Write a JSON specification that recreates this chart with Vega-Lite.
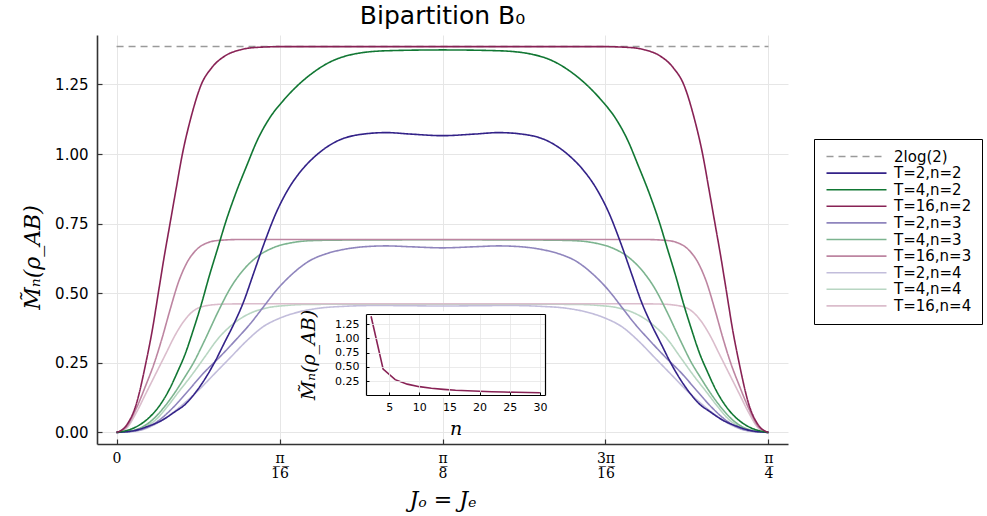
{
"$schema": "https://vega.github.io/schema/vega-lite/v6.json",
"autosize": "none",
"padding": {"left": 97, "top": 35, "right": 199, "bottom": 72},
"width": 691,
"height": 409,
"background": "white",
"config": {"view": {"stroke": null}, "font": "DejaVu Sans"},
"title": {"text": "Bipartition B₀", "fontSize": 25, "font": "DejaVu Sans", "fontWeight": "normal", "color": "black", "anchor": "middle", "offset": 6},
"datasets": {
"main": [
{"s":"2log(2)","J":0,"M":1.3863},{"s":"2log(2)","J":0.25,"M":1.3863},
{"s":"T=2,n=4","J":0,"M":0},{"s":"T=2,n=4","J":0.0075,"M":0.005},{"s":"T=2,n=4","J":0.015,"M":0.03},{"s":"T=2,n=4","J":0.02,"M":0.06},{"s":"T=2,n=4","J":0.025,"M":0.097},{"s":"T=2,n=4","J":0.03125,"M":0.15},{"s":"T=2,n=4","J":0.0375,"M":0.21},{"s":"T=2,n=4","J":0.04375,"M":0.27},{"s":"T=2,n=4","J":0.05,"M":0.33},{"s":"T=2,n=4","J":0.05625,"M":0.38},{"s":"T=2,n=4","J":0.0625,"M":0.41},{"s":"T=2,n=4","J":0.07,"M":0.433},{"s":"T=2,n=4","J":0.0775,"M":0.446},{"s":"T=2,n=4","J":0.0875,"M":0.453},{"s":"T=2,n=4","J":0.1,"M":0.456},{"s":"T=2,n=4","J":0.1125,"M":0.455},{"s":"T=2,n=4","J":0.125,"M":0.454},{"s":"T=2,n=4","J":0.1375,"M":0.455},{"s":"T=2,n=4","J":0.15,"M":0.456},{"s":"T=2,n=4","J":0.1625,"M":0.453},{"s":"T=2,n=4","J":0.1725,"M":0.446},{"s":"T=2,n=4","J":0.18,"M":0.433},{"s":"T=2,n=4","J":0.1875,"M":0.41},{"s":"T=2,n=4","J":0.19375,"M":0.38},{"s":"T=2,n=4","J":0.2,"M":0.33},{"s":"T=2,n=4","J":0.20625,"M":0.27},{"s":"T=2,n=4","J":0.2125,"M":0.21},{"s":"T=2,n=4","J":0.21875,"M":0.15},{"s":"T=2,n=4","J":0.225,"M":0.097},{"s":"T=2,n=4","J":0.23,"M":0.06},{"s":"T=2,n=4","J":0.235,"M":0.03},{"s":"T=2,n=4","J":0.2425,"M":0.005},{"s":"T=2,n=4","J":0.25,"M":0},
{"s":"T=4,n=4","J":0,"M":0},{"s":"T=4,n=4","J":0.005,"M":0.004},{"s":"T=4,n=4","J":0.01,"M":0.017},{"s":"T=4,n=4","J":0.015,"M":0.045},{"s":"T=4,n=4","J":0.01925,"M":0.09},{"s":"T=4,n=4","J":0.02375,"M":0.145},{"s":"T=4,n=4","J":0.02875,"M":0.205},{"s":"T=4,n=4","J":0.03375,"M":0.27},{"s":"T=4,n=4","J":0.03875,"M":0.335},{"s":"T=4,n=4","J":0.045,"M":0.392},{"s":"T=4,n=4","J":0.05125,"M":0.428},{"s":"T=4,n=4","J":0.0575,"M":0.447},{"s":"T=4,n=4","J":0.065,"M":0.456},{"s":"T=4,n=4","J":0.075,"M":0.46},{"s":"T=4,n=4","J":0.125,"M":0.461},{"s":"T=4,n=4","J":0.175,"M":0.46},{"s":"T=4,n=4","J":0.185,"M":0.456},{"s":"T=4,n=4","J":0.1925,"M":0.447},{"s":"T=4,n=4","J":0.19875,"M":0.428},{"s":"T=4,n=4","J":0.205,"M":0.392},{"s":"T=4,n=4","J":0.21125,"M":0.335},{"s":"T=4,n=4","J":0.21625,"M":0.27},{"s":"T=4,n=4","J":0.22125,"M":0.205},{"s":"T=4,n=4","J":0.22625,"M":0.145},{"s":"T=4,n=4","J":0.23075,"M":0.09},{"s":"T=4,n=4","J":0.235,"M":0.045},{"s":"T=4,n=4","J":0.24,"M":0.017},{"s":"T=4,n=4","J":0.245,"M":0.004},{"s":"T=4,n=4","J":0.25,"M":0},
{"s":"T=16,n=4","J":0,"M":0},{"s":"T=16,n=4","J":0.00375,"M":0.015},{"s":"T=16,n=4","J":0.0075,"M":0.07},{"s":"T=16,n=4","J":0.01125,"M":0.14},{"s":"T=16,n=4","J":0.015,"M":0.21},{"s":"T=16,n=4","J":0.01875,"M":0.28},{"s":"T=16,n=4","J":0.0225,"M":0.35},{"s":"T=16,n=4","J":0.02625,"M":0.405},{"s":"T=16,n=4","J":0.03,"M":0.44},{"s":"T=16,n=4","J":0.035,"M":0.456},{"s":"T=16,n=4","J":0.04125,"M":0.461},{"s":"T=16,n=4","J":0.05,"M":0.462},{"s":"T=16,n=4","J":0.125,"M":0.462},{"s":"T=16,n=4","J":0.2,"M":0.462},{"s":"T=16,n=4","J":0.20875,"M":0.461},{"s":"T=16,n=4","J":0.215,"M":0.456},{"s":"T=16,n=4","J":0.22,"M":0.44},{"s":"T=16,n=4","J":0.22375,"M":0.405},{"s":"T=16,n=4","J":0.2275,"M":0.35},{"s":"T=16,n=4","J":0.23125,"M":0.28},{"s":"T=16,n=4","J":0.235,"M":0.21},{"s":"T=16,n=4","J":0.23875,"M":0.14},{"s":"T=16,n=4","J":0.2425,"M":0.07},{"s":"T=16,n=4","J":0.24625,"M":0.015},{"s":"T=16,n=4","J":0.25,"M":0},
{"s":"T=2,n=3","J":0,"M":0},{"s":"T=2,n=3","J":0.0075,"M":0.006},{"s":"T=2,n=3","J":0.015,"M":0.035},{"s":"T=2,n=3","J":0.02175,"M":0.09},{"s":"T=2,n=3","J":0.0275,"M":0.15},{"s":"T=2,n=3","J":0.03325,"M":0.212},{"s":"T=2,n=3","J":0.04,"M":0.275},{"s":"T=2,n=3","J":0.046,"M":0.335},{"s":"T=2,n=3","J":0.05125,"M":0.39},{"s":"T=2,n=3","J":0.05625,"M":0.45},{"s":"T=2,n=3","J":0.06125,"M":0.51},{"s":"T=2,n=3","J":0.0675,"M":0.57},{"s":"T=2,n=3","J":0.07375,"M":0.615},{"s":"T=2,n=3","J":0.0805,"M":0.642},{"s":"T=2,n=3","J":0.0875,"M":0.658},{"s":"T=2,n=3","J":0.095,"M":0.667},{"s":"T=2,n=3","J":0.1035,"M":0.67},{"s":"T=2,n=3","J":0.1125,"M":0.667},{"s":"T=2,n=3","J":0.125,"M":0.663},{"s":"T=2,n=3","J":0.1375,"M":0.667},{"s":"T=2,n=3","J":0.1465,"M":0.67},{"s":"T=2,n=3","J":0.155,"M":0.667},{"s":"T=2,n=3","J":0.1625,"M":0.658},{"s":"T=2,n=3","J":0.1695,"M":0.642},{"s":"T=2,n=3","J":0.17625,"M":0.615},{"s":"T=2,n=3","J":0.1825,"M":0.57},{"s":"T=2,n=3","J":0.18875,"M":0.51},{"s":"T=2,n=3","J":0.19375,"M":0.45},{"s":"T=2,n=3","J":0.19875,"M":0.39},{"s":"T=2,n=3","J":0.204,"M":0.335},{"s":"T=2,n=3","J":0.21,"M":0.275},{"s":"T=2,n=3","J":0.21675,"M":0.212},{"s":"T=2,n=3","J":0.2225,"M":0.15},{"s":"T=2,n=3","J":0.22825,"M":0.09},{"s":"T=2,n=3","J":0.235,"M":0.035},{"s":"T=2,n=3","J":0.2425,"M":0.006},{"s":"T=2,n=3","J":0.25,"M":0},
{"s":"T=4,n=3","J":0,"M":0},{"s":"T=4,n=3","J":0.005,"M":0.005},{"s":"T=4,n=3","J":0.01,"M":0.02},{"s":"T=4,n=3","J":0.01375,"M":0.045},{"s":"T=4,n=3","J":0.018,"M":0.088},{"s":"T=4,n=3","J":0.0225,"M":0.145},{"s":"T=4,n=3","J":0.02625,"M":0.2},{"s":"T=4,n=3","J":0.0295,"M":0.25},{"s":"T=4,n=3","J":0.03375,"M":0.33},{"s":"T=4,n=3","J":0.03875,"M":0.43},{"s":"T=4,n=3","J":0.04375,"M":0.52},{"s":"T=4,n=3","J":0.04875,"M":0.585},{"s":"T=4,n=3","J":0.05375,"M":0.63},{"s":"T=4,n=3","J":0.06,"M":0.663},{"s":"T=4,n=3","J":0.0675,"M":0.682},{"s":"T=4,n=3","J":0.075,"M":0.689},{"s":"T=4,n=3","J":0.0875,"M":0.691},{"s":"T=4,n=3","J":0.125,"M":0.692},{"s":"T=4,n=3","J":0.1625,"M":0.691},{"s":"T=4,n=3","J":0.175,"M":0.689},{"s":"T=4,n=3","J":0.1825,"M":0.682},{"s":"T=4,n=3","J":0.19,"M":0.663},{"s":"T=4,n=3","J":0.19625,"M":0.63},{"s":"T=4,n=3","J":0.20125,"M":0.585},{"s":"T=4,n=3","J":0.20625,"M":0.52},{"s":"T=4,n=3","J":0.21125,"M":0.43},{"s":"T=4,n=3","J":0.21625,"M":0.33},{"s":"T=4,n=3","J":0.2205,"M":0.25},{"s":"T=4,n=3","J":0.22375,"M":0.2},{"s":"T=4,n=3","J":0.2275,"M":0.145},{"s":"T=4,n=3","J":0.232,"M":0.088},{"s":"T=4,n=3","J":0.23625,"M":0.045},{"s":"T=4,n=3","J":0.24,"M":0.02},{"s":"T=4,n=3","J":0.245,"M":0.005},{"s":"T=4,n=3","J":0.25,"M":0},
{"s":"T=16,n=3","J":0,"M":0},{"s":"T=16,n=3","J":0.00375,"M":0.02},{"s":"T=16,n=3","J":0.0075,"M":0.085},{"s":"T=16,n=3","J":0.01125,"M":0.17},{"s":"T=16,n=3","J":0.0145,"M":0.25},{"s":"T=16,n=3","J":0.0175,"M":0.34},{"s":"T=16,n=3","J":0.0205,"M":0.44},{"s":"T=16,n=3","J":0.02375,"M":0.54},{"s":"T=16,n=3","J":0.027,"M":0.61},{"s":"T=16,n=3","J":0.0305,"M":0.655},{"s":"T=16,n=3","J":0.0345,"M":0.68},{"s":"T=16,n=3","J":0.0395,"M":0.69},{"s":"T=16,n=3","J":0.0475,"M":0.693},{"s":"T=16,n=3","J":0.075,"M":0.693},{"s":"T=16,n=3","J":0.125,"M":0.693},{"s":"T=16,n=3","J":0.175,"M":0.693},{"s":"T=16,n=3","J":0.2025,"M":0.693},{"s":"T=16,n=3","J":0.2105,"M":0.69},{"s":"T=16,n=3","J":0.2155,"M":0.68},{"s":"T=16,n=3","J":0.2195,"M":0.655},{"s":"T=16,n=3","J":0.223,"M":0.61},{"s":"T=16,n=3","J":0.22625,"M":0.54},{"s":"T=16,n=3","J":0.2295,"M":0.44},{"s":"T=16,n=3","J":0.2325,"M":0.34},{"s":"T=16,n=3","J":0.2355,"M":0.25},{"s":"T=16,n=3","J":0.23875,"M":0.17},{"s":"T=16,n=3","J":0.2425,"M":0.085},{"s":"T=16,n=3","J":0.24625,"M":0.02},{"s":"T=16,n=3","J":0.25,"M":0},
{"s":"T=2,n=2","J":0,"M":0},{"s":"T=2,n=2","J":0.0075,"M":0.008},{"s":"T=2,n=2","J":0.0115,"M":0.02},{"s":"T=2,n=2","J":0.0175,"M":0.044},{"s":"T=2,n=2","J":0.0225,"M":0.075},{"s":"T=2,n=2","J":0.02625,"M":0.1},{"s":"T=2,n=2","J":0.03,"M":0.14},{"s":"T=2,n=2","J":0.03375,"M":0.19},{"s":"T=2,n=2","J":0.0375,"M":0.25},{"s":"T=2,n=2","J":0.04125,"M":0.32},{"s":"T=2,n=2","J":0.045,"M":0.39},{"s":"T=2,n=2","J":0.04875,"M":0.47},{"s":"T=2,n=2","J":0.0525,"M":0.57},{"s":"T=2,n=2","J":0.05625,"M":0.67},{"s":"T=2,n=2","J":0.06125,"M":0.79},{"s":"T=2,n=2","J":0.06625,"M":0.88},{"s":"T=2,n=2","J":0.07125,"M":0.945},{"s":"T=2,n=2","J":0.0765,"M":0.995},{"s":"T=2,n=2","J":0.08425,"M":1.045},{"s":"T=2,n=2","J":0.09325,"M":1.07},{"s":"T=2,n=2","J":0.1035,"M":1.077},{"s":"T=2,n=2","J":0.11225,"M":1.072},{"s":"T=2,n=2","J":0.125,"M":1.066},{"s":"T=2,n=2","J":0.13775,"M":1.072},{"s":"T=2,n=2","J":0.1465,"M":1.077},{"s":"T=2,n=2","J":0.15675,"M":1.07},{"s":"T=2,n=2","J":0.16575,"M":1.045},{"s":"T=2,n=2","J":0.1735,"M":0.995},{"s":"T=2,n=2","J":0.17875,"M":0.945},{"s":"T=2,n=2","J":0.18375,"M":0.88},{"s":"T=2,n=2","J":0.18875,"M":0.79},{"s":"T=2,n=2","J":0.19375,"M":0.67},{"s":"T=2,n=2","J":0.1975,"M":0.57},{"s":"T=2,n=2","J":0.20125,"M":0.47},{"s":"T=2,n=2","J":0.205,"M":0.39},{"s":"T=2,n=2","J":0.20875,"M":0.32},{"s":"T=2,n=2","J":0.2125,"M":0.25},{"s":"T=2,n=2","J":0.21625,"M":0.19},{"s":"T=2,n=2","J":0.22,"M":0.14},{"s":"T=2,n=2","J":0.22375,"M":0.1},{"s":"T=2,n=2","J":0.2275,"M":0.075},{"s":"T=2,n=2","J":0.2325,"M":0.044},{"s":"T=2,n=2","J":0.2385,"M":0.02},{"s":"T=2,n=2","J":0.2425,"M":0.008},{"s":"T=2,n=2","J":0.25,"M":0},
{"s":"T=4,n=2","J":0,"M":0},{"s":"T=4,n=2","J":0.0075,"M":0.02},{"s":"T=4,n=2","J":0.0115,"M":0.045},{"s":"T=4,n=2","J":0.016,"M":0.09},{"s":"T=4,n=2","J":0.02,"M":0.15},{"s":"T=4,n=2","J":0.0235,"M":0.22},{"s":"T=4,n=2","J":0.02625,"M":0.28},{"s":"T=4,n=2","J":0.0295,"M":0.37},{"s":"T=4,n=2","J":0.0325,"M":0.46},{"s":"T=4,n=2","J":0.0355,"M":0.56},{"s":"T=4,n=2","J":0.03875,"M":0.66},{"s":"T=4,n=2","J":0.042,"M":0.76},{"s":"T=4,n=2","J":0.04575,"M":0.86},{"s":"T=4,n=2","J":0.05,"M":0.96},{"s":"T=4,n=2","J":0.054,"M":1.05},{"s":"T=4,n=2","J":0.05875,"M":1.13},{"s":"T=4,n=2","J":0.06375,"M":1.19},{"s":"T=4,n=2","J":0.06875,"M":1.24},{"s":"T=4,n=2","J":0.075,"M":1.29},{"s":"T=4,n=2","J":0.08175,"M":1.33},{"s":"T=4,n=2","J":0.0905,"M":1.358},{"s":"T=4,n=2","J":0.1035,"M":1.371},{"s":"T=4,n=2","J":0.125,"M":1.374},{"s":"T=4,n=2","J":0.1465,"M":1.371},{"s":"T=4,n=2","J":0.1595,"M":1.358},{"s":"T=4,n=2","J":0.16825,"M":1.33},{"s":"T=4,n=2","J":0.175,"M":1.29},{"s":"T=4,n=2","J":0.18125,"M":1.24},{"s":"T=4,n=2","J":0.18625,"M":1.19},{"s":"T=4,n=2","J":0.19125,"M":1.13},{"s":"T=4,n=2","J":0.196,"M":1.05},{"s":"T=4,n=2","J":0.2,"M":0.96},{"s":"T=4,n=2","J":0.20425,"M":0.86},{"s":"T=4,n=2","J":0.208,"M":0.76},{"s":"T=4,n=2","J":0.21125,"M":0.66},{"s":"T=4,n=2","J":0.2145,"M":0.56},{"s":"T=4,n=2","J":0.2175,"M":0.46},{"s":"T=4,n=2","J":0.2205,"M":0.37},{"s":"T=4,n=2","J":0.22375,"M":0.28},{"s":"T=4,n=2","J":0.2265,"M":0.22},{"s":"T=4,n=2","J":0.23,"M":0.15},{"s":"T=4,n=2","J":0.234,"M":0.09},{"s":"T=4,n=2","J":0.2385,"M":0.045},{"s":"T=4,n=2","J":0.2425,"M":0.02},{"s":"T=4,n=2","J":0.25,"M":0},
{"s":"T=16,n=2","J":0,"M":0},{"s":"T=16,n=2","J":0.00375,"M":0.025},{"s":"T=16,n=2","J":0.0075,"M":0.1},{"s":"T=16,n=2","J":0.01125,"M":0.25},{"s":"T=16,n=2","J":0.01375,"M":0.37},{"s":"T=16,n=2","J":0.016,"M":0.5},{"s":"T=16,n=2","J":0.01825,"M":0.63},{"s":"T=16,n=2","J":0.0205,"M":0.75},{"s":"T=16,n=2","J":0.02275,"M":0.87},{"s":"T=16,n=2","J":0.02525,"M":1.0},{"s":"T=16,n=2","J":0.0285,"M":1.13},{"s":"T=16,n=2","J":0.0325,"M":1.25},{"s":"T=16,n=2","J":0.0365,"M":1.31},{"s":"T=16,n=2","J":0.0415,"M":1.352},{"s":"T=16,n=2","J":0.04725,"M":1.374},{"s":"T=16,n=2","J":0.05375,"M":1.383},{"s":"T=16,n=2","J":0.065,"M":1.386},{"s":"T=16,n=2","J":0.0875,"M":1.386},{"s":"T=16,n=2","J":0.125,"M":1.386},{"s":"T=16,n=2","J":0.1625,"M":1.386},{"s":"T=16,n=2","J":0.185,"M":1.386},{"s":"T=16,n=2","J":0.19625,"M":1.383},{"s":"T=16,n=2","J":0.20275,"M":1.374},{"s":"T=16,n=2","J":0.2085,"M":1.352},{"s":"T=16,n=2","J":0.2135,"M":1.31},{"s":"T=16,n=2","J":0.2175,"M":1.25},{"s":"T=16,n=2","J":0.2215,"M":1.13},{"s":"T=16,n=2","J":0.22475,"M":1.0},{"s":"T=16,n=2","J":0.22725,"M":0.87},{"s":"T=16,n=2","J":0.2295,"M":0.75},{"s":"T=16,n=2","J":0.23175,"M":0.63},{"s":"T=16,n=2","J":0.234,"M":0.5},{"s":"T=16,n=2","J":0.23625,"M":0.37},{"s":"T=16,n=2","J":0.23875,"M":0.25},{"s":"T=16,n=2","J":0.2425,"M":0.1},{"s":"T=16,n=2","J":0.24625,"M":0.025},{"s":"T=16,n=2","J":0.25,"M":0}
],
"inset": [
{"n":2,"M":1.386},{"n":4,"M":0.462},{"n":6,"M":0.277},{"n":8,"M":0.198},{"n":10,"M":0.154},{"n":12,"M":0.126},{"n":14,"M":0.107},{"n":16,"M":0.092},{"n":18,"M":0.082},{"n":20,"M":0.073},{"n":22,"M":0.066},{"n":24,"M":0.06},{"n":26,"M":0.055},{"n":28,"M":0.051},{"n":30,"M":0.048}
]
},
"layer": [
{
"data": {"name": "main"},
"mark": {"type": "line", "interpolate": "monotone", "strokeWidth": 1.6},
"encoding": {
"x": {"field": "J", "type": "quantitative",
 "scale": {"domain": [-0.0075, 0.2575], "nice": false, "zero": false},
 "axis": {"values": [0, 0.0625, 0.125, 0.1875, 0.25],
  "labelExpr": "datum.value == 0 ? '0' : datum.value < 0.07 ? ['π','1\u03056\u0305'] : datum.value < 0.13 ? ['π','8\u0305'] : datum.value < 0.19 ? ['3π','1\u03056\u0305'] : ['π','4\u0305']",
  "labelFont": "DejaVu Serif", "labelFontSize": 14, "labelColor": "black", "labelLineHeight": 15, "labelBaseline": "middle", "labelPadding": 19, "labelFlush": false, "labelOverlap": false,
  "tickSize": -5, "tickColor": "#333", "tickWidth": 1.2,
  "domainColor": "#333", "domainWidth": 1.6,
  "grid": true, "gridColor": "#e6e6e6", "gridWidth": 1,
  "title": "Jₒ = Jₑ", "titleFont": "DejaVu Serif", "titleFontStyle": "italic", "titleFontWeight": "normal", "titleFontSize": 22, "titleColor": "black", "titlePadding": 9}},
"y": {"field": "M", "type": "quantitative",
 "scale": {"domain": [-0.0416, 1.4276], "nice": false, "zero": false},
 "axis": {"values": [0, 0.25, 0.5, 0.75, 1.0, 1.25], "format": ".2f",
  "labelFont": "DejaVu Sans", "labelFontSize": 15, "labelColor": "black", "labelPadding": 14, "labelFlush": false, "labelOverlap": false,
  "tickSize": -5, "tickColor": "#333", "tickWidth": 1.2,
  "domainColor": "#333", "domainWidth": 1.6,
  "grid": true, "gridColor": "#e6e6e6", "gridWidth": 1,
  "title": "M̃ₙ(ρ_AB)", "titleFont": "DejaVu Serif", "titleFontStyle": "italic", "titleFontWeight": "normal", "titleFontSize": 22, "titleColor": "black", "titlePadding": 10, "titleY": 222}},
"color": {"field": "s", "type": "nominal",
 "scale": {"domain": ["2log(2)", "T=2,n=2", "T=4,n=2", "T=16,n=2", "T=2,n=3", "T=4,n=3", "T=16,n=3", "T=2,n=4", "T=4,n=4", "T=16,n=4"],
  "range": ["#9a9a9a", "#332288", "#117733", "#882255", "#8f85bd", "#7cb48f", "#bd85a1", "#c2bddb", "#b8d6c2", "#dbbdcc"]},
 "legend": {"title": null, "orient": "none", "legendX": 717, "legendY": 104, "symbolType": "M-1,0H11", "symbolSize": 100, "symbolStrokeWidth": 1.6, "labelFontSize": 15, "labelFont": "DejaVu Sans", "labelColor": "black", "labelOffset": 55, "strokeColor": "black", "fillColor": "white", "padding": 10, "rowPadding": 0.6, "labelLimit": 200}},
"strokeDash": {"field": "s", "type": "nominal",
 "scale": {"domain": ["2log(2)", "T=2,n=2", "T=4,n=2", "T=16,n=2", "T=2,n=3", "T=4,n=3", "T=16,n=3", "T=2,n=4", "T=4,n=4", "T=16,n=4"],
  "range": [[7,5],[1,0],[1,0],[1,0],[1,0],[1,0],[1,0],[1,0],[1,0],[1,0]]},
 "legend": {"title": null, "orient": "none", "legendX": 717, "legendY": 104, "symbolType": "M-1,0H11", "symbolSize": 100, "symbolStrokeWidth": 1.6, "labelFontSize": 15, "labelFont": "DejaVu Sans", "labelColor": "black", "labelOffset": 55, "strokeColor": "black", "fillColor": "white", "padding": 10, "rowPadding": 0.6, "labelLimit": 200}}
}
},
{
"data": {"name": "inset"},
"layer": [
{
"mark": {"type": "rect", "fill": "white", "stroke": "white", "strokeWidth": 10},
"encoding": {
"x": {"aggregate": "min", "field": "n", "type": "quantitative",
 "scale": {"domain": [1.16, 30.84], "range": [269, 448], "nice": false, "zero": false},
 "axis": {"orient": "top", "offset": -279, "values": [5, 10, 15, 20, 25, 30], "labels": false, "ticks": false, "grid": true, "gridColor": "#e6e6e6", "gridWidth": 0.8, "domainColor": "black", "domainWidth": 1.2, "title": null, "zindex": 2}},
"x2": {"aggregate": "max", "field": "n"},
"y": {"aggregate": "min", "field": "M", "type": "quantitative",
 "scale": {"domain": [0.008, 1.426], "range": [360, 279], "nice": false, "zero": false},
 "axis": {"orient": "right", "offset": -243, "labels": false, "ticks": false, "grid": false, "domainColor": "black", "domainWidth": 1.2, "title": null, "zindex": 2}},
"y2": {"aggregate": "max", "field": "M"}
}
},
{
"mark": {"type": "line", "color": "#882255", "strokeWidth": 1.6},
"encoding": {
"x": {"field": "n", "type": "quantitative",
 "scale": {"domain": [1.16, 30.84], "range": [269, 448], "nice": false, "zero": false},
 "axis": {"orient": "bottom", "offset": -49, "values": [5, 10, 15, 20, 25, 30], "labelFont": "DejaVu Sans", "labelFontSize": 11, "labelColor": "black", "labelPadding": 9, "labelFlush": false, "labelOverlap": false,
  "tickSize": -3, "tickColor": "black", "domainColor": "black", "domainWidth": 1.2,
  "grid": false, "zindex": 2,
  "title": "n", "titleFont": "DejaVu Serif", "titleFontStyle": "italic", "titleFontWeight": "normal", "titleFontSize": 19, "titleColor": "black", "titlePadding": 7}},
"y": {"field": "M", "type": "quantitative",
 "scale": {"domain": [0.008, 1.426], "range": [360, 279], "nice": false, "zero": false},
 "axis": {"orient": "left", "offset": -269, "values": [0.25, 0.5, 0.75, 1.0, 1.25], "format": ".2f", "labelFont": "DejaVu Sans", "labelFontSize": 11, "labelColor": "black", "labelPadding": 10, "labelFlush": false, "labelOverlap": false,
  "tickSize": -3, "tickColor": "black", "domainColor": "black", "domainWidth": 1.2,
  "grid": true, "gridColor": "#e6e6e6", "gridWidth": 0.8, "zindex": 2,
  "title": "M̃ₙ(ρ_AB)", "titleFont": "DejaVu Serif", "titleFontStyle": "italic", "titleFontWeight": "normal", "titleFontSize": 19, "titleColor": "black", "titlePadding": 16}}
}
}
],
"resolve": {"axis": {"x": "independent", "y": "independent"}}
}
],
"resolve": {"scale": {"x": "independent", "y": "independent"}, "axis": {"x": "independent", "y": "independent"}}
}
